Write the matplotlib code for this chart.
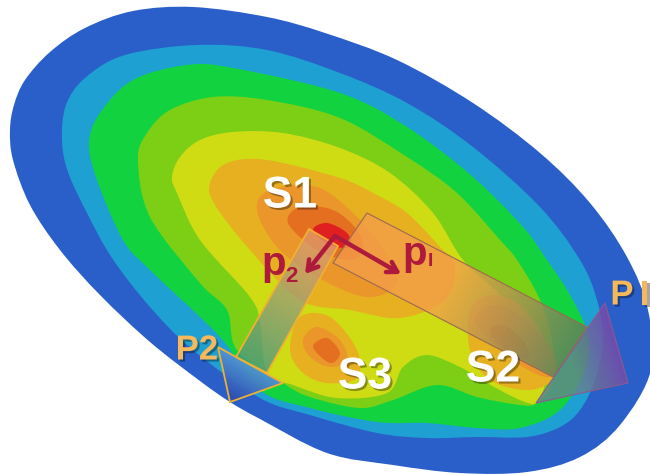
import numpy as np
import matplotlib
matplotlib.use("Agg")
import matplotlib.pyplot as plt
import matplotlib.patheffects as pe
from matplotlib.patches import PathPatch, Polygon
from matplotlib.path import Path

# contour bands, outlines (x, y in image pixels)
band_blue = [(133,11),(193,7),(267,17),(325,33),(397,60),(473,103),(540,153),(590,203),(627,257),(648,310),(651,370),(620,425),(580,457),(527,472),(460,473),(393,465),(327,453),(260,419),(230,402),(200,381),(150,342),(100,295),(60,250),(30,205),(13,160),(10,130),(14,105),(25,80),(50,52),(85,28)]
band_ltblue = [(197,45),(267,50),(340,73),(407,103),(473,147),(540,207),(580,260),(597,300),(603,340),(595,380),(580,410),(560,427),(527,437),(477,437),(427,438),(377,433),(310,415),(260,398),(193,350),(150,307),(112,258),(87,213),(68,172),(62,140),(66,105),(85,78),(125,55)]
band_green = [(187,65),(233,68),(340,93),(407,127),(473,177),(523,227),(547,260),(570,295),(588,335),(585,370),(560,410),(520,428),(477,428),(427,423),(377,422),(310,408),(260,390),(220,337),(150,270),(123,240),(97,180),(89,143),(100,113),(133,80)]
band_lime = [(213,97),(267,100),(340,118),(407,157),(457,193),(500,240),(517,260),(540,300),(553,345),(553,380),(537,403),(520,405),(477,397),(437,385),(393,400),(360,408),(310,397),(283,383),(237,350),(227,310),(200,283),(150,217),(138,160),(147,133),(170,110)]
band_yellow = [(233,132),(283,133),(340,148),(390,173),(433,213),(463,260),(500,295),(530,335),(545,375),(537,402),(520,400),(487,383),(460,367),(427,355),(403,367),(387,393),(337,398),(293,385),(267,373),(260,323),(250,297),(200,240),(177,193),(172,177),(180,157),(200,140)]
band_gold = [(227,163),(267,160),(340,178),(373,193),(407,213),(440,247),(455,265),(445,300),(400,318),(350,310),(300,300),(250,250),(215,205),(210,183)]
band_gold_s2 = [(470,310),(490,295),(520,305),(545,340),(555,375),(530,390),(490,380),(470,350)]
band_gold_s3 = [(290,350),(300,317),(330,317),(357,350),(357,378),(327,383),(303,373)]
band_orange = [(270,190),(317,187),(357,217),(383,250),(397,283),(367,297),(317,277),(277,247),(257,210)]
band_orange_s2 = [(487,307),(507,307),(533,327),(555,357),(550,377),(523,367),(493,343),(475,320)]
band_orange_s3 = [(317,327),(340,340),(347,360),(330,367),(310,357),(303,340)]
band_dark = [(300,207),(333,210),(357,230),(363,250),(350,260),(317,250),(288,223)]
band_dark_s2 = [(503,325),(523,340),(530,357),(517,357),(497,343),(490,330)]
band_dark_s3 = [(327,338),(340,353),(330,363),(313,347)]
band_red = [(327,223),(347,233),(350,247),(330,245),(313,230)]

bands = [
    (band_blue, "#2a5fc9"), (band_ltblue, "#1fa0d2"), (band_green, "#12d33f"),
    (band_lime, "#7dcf16"), (band_yellow, "#cfdc14"), (band_gold, "#e6b020"),
    (band_gold_s2, "#e6b020"), (band_gold_s3, "#e6b020"), (band_orange, "#ea962a"),
    (band_orange_s2, "#ea962a"), (band_orange_s3, "#ea962a"), (band_dark, "#e56f20"),
    (band_dark_s2, "#e56f20"), (band_dark_s3, "#e56f20"), (band_red, "#e02020"),
]

# big arrows
p1_shaft = [(367,213),(587,327),(553,377),(333,263)]
p1_head = [(605,303),(628,383),(536,403)]
p2_shaft = [(309,229),(338,246),(267,373),(236,357)]
p2_head = [(218,347),(283,383),(230,402)]

# small arrows, from the common start to each tip
start = (335,236)
tip_p1 = (401,274)
tip_p2 = (305,274)

labels = ["S1", "S2", "S3"]
label_xy = [(290,196), (493,370), (365,377)]


def smooth_path(pts):
    # closed Catmull-Rom outline as bezier segments
    pts = np.array(pts, dtype=float)
    n = len(pts)
    verts = [pts[0]]
    codes = [Path.MOVETO]
    for i in range(n):
        p0, p1, p2, p3 = pts[i-1], pts[i], pts[(i+1) % n], pts[(i+2) % n]
        verts += [p1 + (p2-p0)/6, p2 - (p3-p1)/6, p2]
        codes += [Path.CURVE4]*3
    return Path(verts, codes)


def gradient_fill(ax, poly, c0, c1, p0, p1, z):
    # colour runs along p0 -> p1, clipped to the polygon
    xs, ys = np.meshgrid(np.arange(650), np.arange(475))
    d = np.array(p1, dtype=float) - p0
    t = np.clip(((xs-p0[0])*d[0] + (ys-p0[1])*d[1]) / (d @ d), 0, 1)[..., None]
    img = np.array(c0)*(1-t) + np.array(c1)*t
    im = ax.imshow(img, extent=(0,650,475,0), zorder=z, interpolation="bilinear")
    patch = Polygon(poly, closed=True, transform=ax.transData, fc="none", ec="none")
    ax.add_patch(patch)
    im.set_clip_path(patch)


fig = plt.figure(figsize=(6.5,4.75), dpi=100)
ax = fig.add_axes([0,0,1,1])

for pts, col in bands:
    ax.add_patch(PathPatch(smooth_path(pts), fc=col, ec="none", zorder=1))

# P1 arrow
gradient_fill(ax, p1_shaft, (0.96,0.62,0.30,0.75), (0.36,0.52,0.36,0.88), (450,280), (575,345), 3)
ax.add_patch(Polygon(p1_shaft, closed=True, fc="none", ec="#9a6a50", lw=0.8, zorder=4))
gradient_fill(ax, p1_head, (0.40,0.52,0.55,0.8), (0.45,0.30,0.68,0.9), (570,360), (615,345), 3)
ax.add_patch(Polygon(p1_head, closed=True, fc="none", ec="#8a5a90", lw=0.8, zorder=4))

# P2 arrow
gradient_fill(ax, p2_shaft, (0.90,0.62,0.45,0.7), (0.28,0.60,0.50,0.8), (323,238), (252,365), 3)
ax.add_patch(Polygon(p2_shaft, closed=True, fc="none", ec="#f0b030", lw=1.3, zorder=4))
gradient_fill(ax, p2_head, (0.32,0.58,0.82,0.95), (0.18,0.30,0.70,0.95), (250,365), (232,398), 3)
ax.add_patch(Polygon(p2_head, closed=True, fc="none", ec="#f0b030", lw=1.3, zorder=4))

for tip in (tip_p1, tip_p2):
    ax.annotate("", xy=tip, xytext=start, zorder=6,
                arrowprops=dict(arrowstyle="->,head_length=0.7,head_width=0.42", color="#ad1a3c", lw=3.2, shrinkA=0, shrinkB=0))

shadow = [pe.withSimplePatchShadow(offset=(1.5,-1.5), shadow_rgbFace="k", alpha=0.35)]
for lab, (x, y) in zip(labels, label_xy):
    ax.text(x, y, lab, color="white", fontsize=32, fontweight="bold", family="Liberation Sans",
            ha="center", va="center", zorder=7, path_effects=shadow)

ax.text(274,264, "p", color="#ad1a3c", fontsize=29, fontweight="bold", family="Liberation Sans", ha="center", va="center", zorder=7)
ax.text(291,276, "2", color="#ad1a3c", fontsize=16, fontweight="bold", family="Liberation Sans", ha="center", va="center", zorder=7)
ax.text(415,254, "p", color="#ad1a3c", fontsize=29, fontweight="bold", family="Liberation Sans", ha="center", va="center", zorder=7)
ax.text(430,262, "I", color="#ad1a3c", fontsize=14, fontweight="bold", family="Liberation Sans", ha="center", va="center", zorder=7)

ax.text(197,350, "P2", color="#f5b95c", fontsize=25, fontweight="bold", family="Liberation Sans",
        ha="center", va="center", zorder=7, path_effects=shadow)
ax.text(622,295, "P", color="#f5b95c", fontsize=25, fontweight="bold", family="Liberation Sans",
        ha="center", va="center", zorder=7, path_effects=shadow)
ax.text(645,295, "I", color="#f5b95c", fontsize=25, fontweight="bold", family="Liberation Sans",
        ha="center", va="center", zorder=7, path_effects=shadow)

ax.set_xlim(0,650)
ax.set_ylim(475,0)
ax.axis("off")
fig.savefig("out.png", dpi=100)
